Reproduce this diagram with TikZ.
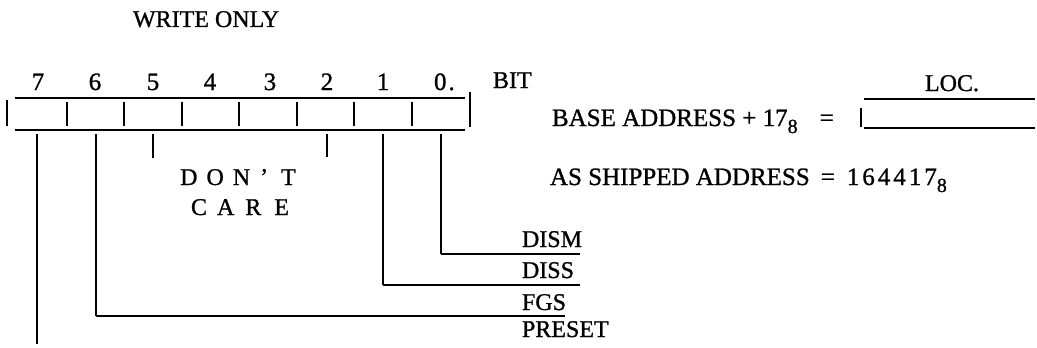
\documentclass[tikz,border=0pt]{standalone}
\usepackage{fontspec}
\setmainfont{Liberation Serif}[FakeBold=1]
\newcommand{\subeight}{\raisebox{-7pt}{\fontsize{20}{22}\selectfont 8}}
\begin{document}
\begin{tikzpicture}[x=1pt,y=-1pt,
  txt/.style={inner sep=0pt, outer sep=0pt, font=\fontsize{24}{28}\selectfont, anchor=base west},
  addr/.style={inner sep=0pt, outer sep=0pt, font=\fontsize{25}{30}\selectfont, anchor=base west},
  dig/.style={inner sep=0pt, outer sep=0pt, font=\fontsize{25}{30}\selectfont, anchor=base},
  heavy/.style={line width=2.8pt},
  light/.style={line width=1.8pt}]
\useasboundingbox (0,0) rectangle (1037,348);

% title
\node[txt] (title) at (133,27) {WRITE ONLY};

% bit numbers
\foreach \b/\x in {7/38,6/95,5/153,4/210,3/270,2/327,1/383}
  \node[dig] (d\b) at (\x,90) {\b};
\node[dig, anchor=base west] (d0) at (434,90) {0\kern2pt.};
\node[txt] (bit) at (493,88) {BIT};

% register
\draw[heavy] (15,98) -- (465,98);
\draw[heavy] (15,130) -- (465,130);
\draw[light] (7,100) -- (7,126);
\draw[light] (470,92) -- (470,127);
\foreach \x in {67,124,182,239,297,354,412}
  \draw[light] (\x,102) -- (\x,126);

% bit line origins
\foreach \b/\x in {7/37,6/96,5/153,2/327,1/383,0/441}
  \coordinate (r\b) at (\x,134);

% labels
\node[txt] (dism) at (522,247) {DISM};
\node[txt] (diss) at (522,278) {DISS};
\node[txt] (fgs) at (522,310) {FGS};
\node[txt] (preset) at (522,337) {PRESET};

\node[txt, anchor=base] (dont) at (238,185) {D\hspace{9pt}O\hspace{9pt}N\hspace{10pt}’\hspace{13pt}T};
\node[txt, anchor=base] (care) at (240,215) {C\hspace{10pt}A\hspace{11pt}R\hspace{13pt}E};

% corners and ends
\coordinate (c0) at (441,254);  \coordinate (e0) at (580,254);
\coordinate (c1) at (383,285);  \coordinate (e1) at (580,285);
\coordinate (c6) at (96,316);   \coordinate (e6) at (565,316);
\coordinate (e7) at (37,344);
\coordinate (e5) at (153,158);
\coordinate (e2) at (327,157);

\draw[light] (r7) -- (e7);
\draw[light] (r6) -- (c6);
\draw[heavy] (c6) -- (e6);
\draw[light] (r5) -- (e5);
\draw[light] (r2) -- (e2);
\draw[light] (r1) -- (c1);
\draw[heavy] (c1) -- (e1);
\draw[light] (r0) -- (c0);
\draw[heavy] (c0) -- (e0);

% address texts
\node[addr] (base) at (552,126) {BASE ADDRESS + 17\subeight\hspace{22pt}=};
\node[addr] (shipped) at (550,185) {AS SHIPPED ADDRESS\hspace{11pt}=\hspace{12pt}{\addfontfeature{LetterSpace=12}164417}\subeight};

% location box
\node[txt, anchor=base] (loc) at (952,91) {LOC.};
\draw[heavy] (864,99) -- (1035,99);
\draw[heavy] (864,128) -- (1035,128);
\draw[light] (861,108) -- (861,127);
\end{tikzpicture}
\end{document}
